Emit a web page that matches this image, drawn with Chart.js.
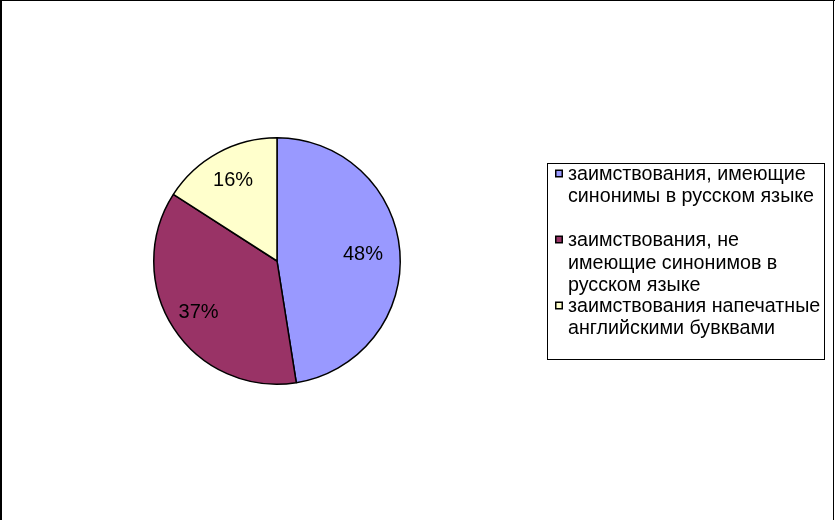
<!DOCTYPE html>
<html>
<head>
<meta charset="utf-8">
<script src="https://cdn.jsdelivr.net/npm/chart.js@4"></script>
<style>
  html, body { margin: 0; padding: 0; background: #ffffff; }
  #wrap { width: 835px; height: 520px; position: relative; }
</style>
</head>
<body>
<div id="wrap"><canvas id="c" width="835" height="520"></canvas></div>
<script>
const categories = [
  "заимствования, имеющие синонимы в русском языке",
  "заимствования, не имеющие синонимов в русском языке",
  "заимствования напечатные английскими бувквами"
];
const legendLines = [
  ["заимствования, имеющие", "синонимы в русском языке"],
  ["заимствования, не", "имеющие синонимов в", "русском языке"],
  ["заимствования напечатные", "английскими бувквами"]
];
const shareValues = [47.5, 36.6, 15.9];
const sliceColors = ["#9999FF", "#993366", "#FFFFCC"];

const FONT = '"Liberation Sans", Arial, sans-serif';

const framePlugin = {
  id: 'frame',
  beforeDraw(chart) {
    const ctx = chart.ctx;
    ctx.save();
    ctx.fillStyle = '#ffffff';
    ctx.fillRect(0, 0, chart.width, chart.height);
    ctx.fillStyle = '#000000';
    ctx.fillRect(0, 0, chart.width, 1);
    ctx.fillRect(0, 0, 2, chart.height);
    ctx.fillRect(833, 0, 1, chart.height);
    ctx.restore();
  }
};

const sliceLabelPlugin = {
  id: 'sliceLabels',
  afterDatasetsDraw(chart, args, opts) {
    const ctx = chart.ctx;
    const meta = chart.getDatasetMeta(0);
    const data = chart.data.datasets[0].data;
    const total = data.reduce((a, b) => a + b, 0);
    ctx.save();
    ctx.font = opts.font;
    ctx.fillStyle = '#000000';
    ctx.textAlign = 'center';
    ctx.textBaseline = 'middle';
    meta.data.forEach((arc, i) => {
      const p = arc.getProps(['x', 'y', 'startAngle', 'endAngle', 'outerRadius'], true);
      const mid = (p.startAngle + p.endAngle) / 2;
      const r = p.outerRadius * opts.radiusFactor[i];
      const x = p.x + Math.cos(mid) * r;
      const y = p.y + Math.sin(mid) * r;
      const pct = Math.round(data[i] / total * 100);
      ctx.fillText(pct + '%', x, y);
    });
    ctx.restore();
  }
};

const boxLegendPlugin = {
  id: 'boxLegend',
  afterDraw(chart, args, opts) {
    const ctx = chart.ctx;
    const ds = chart.data.datasets[0];
    ctx.save();
    ctx.strokeStyle = '#000000';
    ctx.lineWidth = 1;
    const b = opts.box;
    ctx.strokeRect(b.left + 0.5, b.top + 0.5, b.right - b.left, b.bottom - b.top);
    ctx.font = opts.font;
    ctx.textAlign = 'left';
    ctx.textBaseline = 'alphabetic';
    let li = 0;
    legendLines.forEach((lines, i) => {
      lines.forEach((txt, j) => {
        const base = opts.baselines[li];
        if (j === 0) {
          ctx.fillStyle = '#000000';
          ctx.fillRect(opts.markerX, base - 10, 8, 8);
          ctx.fillStyle = ds.backgroundColor[i];
          ctx.fillRect(opts.markerX + 1.5, base - 8.5, 5, 5);
        }
        ctx.fillStyle = '#000000';
        ctx.fillText(txt, opts.textX, base);
        li++;
      });
    });
    ctx.restore();
  }
};

new Chart(document.getElementById('c'), {
  type: 'pie',
  data: {
    labels: categories,
    datasets: [{
      data: shareValues,
      backgroundColor: sliceColors,
      borderColor: '#000000',
      borderWidth: 1.5,
      hoverOffset: 0
    }]
  },
  options: {
    responsive: false,
    animation: false,
    events: [],
    layout: { padding: { left: 153, right: 434, top: 137, bottom: 135 } },
    plugins: {
      legend: { display: false },
      tooltip: { enabled: false },
      title: { display: false },
      sliceLabels: {
        font: '20px ' + FONT,
        radiusFactor: [0.70, 0.76, 0.745]
      },
      boxLegend: {
        box: { left: 547, top: 163, right: 824, bottom: 359 },
        font: '19.7px ' + FONT,
        markerX: 555,
        textX: 568,
        baselines: [179.5, 202, 245.5, 268.5, 290.5, 311.5, 333.5]
      }
    }
  },
  plugins: [framePlugin, sliceLabelPlugin, boxLegendPlugin]
});
</script>
</body>
</html>
